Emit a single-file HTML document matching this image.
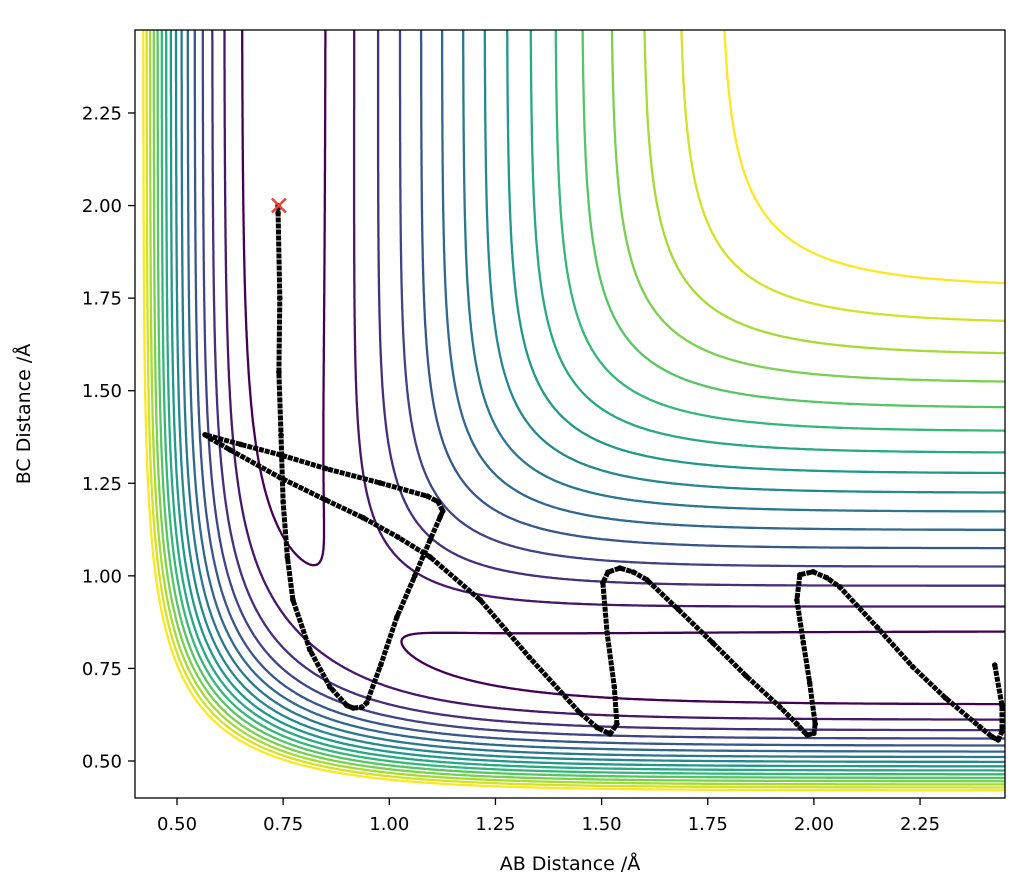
<!DOCTYPE html>
<html><head><meta charset="utf-8">
<style>
html,body{margin:0;padding:0;background:#fff;}
svg{display:block;font-family:"DejaVu Sans","Liberation Sans",sans-serif;}
</style></head>
<body>
<svg id="chart" width="1028" height="892" viewBox="0 0 1028 892" xmlns="http://www.w3.org/2000/svg">
  <defs><clipPath id="clip"><rect x="135" y="30" width="870" height="768"/></clipPath></defs>
  <rect x="0" y="0" width="1028" height="892" fill="#fff"/>
  <g id="contours" clip-path="url(#clip)"></g>
  <g id="traj" clip-path="url(#clip)"></g>
  <g id="start"></g>
  <rect x="135" y="30" width="870" height="768" fill="none" stroke="#000" stroke-width="1.3"/>
  <g id="xticks"></g>
  <g id="yticks"></g>
  <text x="570" y="870" font-size="19" text-anchor="middle">AB Distance /Å</text>
  <text x="0" y="0" font-size="19" text-anchor="middle" transform="translate(30,414) rotate(-90)">BC Distance /Å</text>
</svg>
<script>
// ---- data ----
const levelMin = -4.575;
const levelStep = 0.2264;
const levelCount = 16;
const xTickVals = [0.50,0.75,1.00,1.25,1.50,1.75,2.00,2.25];
const yTickVals = [0.50,0.75,1.00,1.25,1.50,1.75,2.00,2.25];
const trajAB = [0.738,0.738,0.742,0.740,0.745,0.750,0.760,0.773,0.813,0.860,0.900,0.915,0.935,0.947,0.980,1.018,1.060,1.096,1.120,1.126,1.115,1.090,0.978,0.850,0.743,0.650,0.566,0.580,0.625,0.743,0.850,0.938,1.020,1.096,1.214,1.330,1.449,1.490,1.520,1.536,1.530,1.513,1.503,1.515,1.543,1.575,1.607,1.680,1.762,1.840,1.920,1.960,1.984,2.000,2.003,1.990,1.975,1.960,1.967,1.998,2.030,2.061,2.150,2.233,2.310,2.391,2.420,2.434,2.443,2.443,2.426];
const trajBC = [2.000,1.980,1.750,1.550,1.380,1.200,1.050,0.935,0.800,0.700,0.650,0.643,0.645,0.657,0.760,0.889,1.000,1.097,1.160,1.175,1.200,1.215,1.251,1.290,1.327,1.355,1.381,1.370,1.340,1.265,1.205,1.157,1.105,1.051,0.935,0.780,0.630,0.590,0.573,0.600,0.700,0.846,0.981,1.010,1.021,1.010,0.989,0.910,0.819,0.730,0.646,0.600,0.570,0.575,0.600,0.711,0.820,0.935,1.003,1.011,0.995,0.970,0.860,0.754,0.670,0.592,0.565,0.557,0.580,0.650,0.759];
const startAB = 0.74, startBC = 2.0;

const NS='http://www.w3.org/2000/svg';
const X0=177, XS=424.6, Y0=761, YS=370.3;
function sx(v){return X0+(v-0.5)*XS;}
function sy(v){return Y0-(v-0.5)*YS;}
function ix(p){return 0.5+(p-X0)/XS;}
function iy(p){return 0.5+(Y0-p)/YS;}

// LEPS potential with Sato parameter
const D=4.746, A=1.942, R0=0.742, DS=0.188;
const CC=D/(4*(1+DS));
function Qf(r){const e=Math.exp(-A*(r-R0));return CC*((3+DS)*e*e-(2+6*DS)*e);}
function Jf(r){const e=Math.exp(-A*(r-R0));return CC*((1+3*DS)*e*e-(6+2*DS)*e);}
function V(x,y){
  const r=[x,y,x+y];
  let Q=0,J=[];
  for(const ri of r){Q+=Qf(ri);J.push(Jf(ri));}
  return Q-Math.sqrt(0.5*((J[0]-J[1])**2+(J[1]-J[2])**2+(J[2]-J[0])**2));
}
function viridis(t){
  const s=[[68,1,84],[72,40,120],[62,74,137],[49,104,142],[38,130,142],[31,158,137],[53,183,121],[109,205,89],[180,222,44],[253,231,37]];
  t=Math.max(0,Math.min(1,t));const f=t*(s.length-1);const i=Math.min(s.length-2,Math.floor(f));const u=f-i;
  const c=s[i].map((v,k)=>Math.round(v+(s[i+1][k]-v)*u));return `rgb(${c[0]},${c[1]},${c[2]})`;
}

// grid
const NX=420, NY=420, pxL=135, pxR=1005, pyT=30, pyB=798;
const gx=[],gy=[];
for(let i=0;i<=NX;i++)gx.push(pxL+(pxR-pxL)*i/NX);
for(let j=0;j<=NY;j++)gy.push(pyT+(pyB-pyT)*j/NY);
const G=[];
for(let j=0;j<=NY;j++){const row=[];const yv=iy(gy[j]);for(let i=0;i<=NX;i++)row.push(V(ix(gx[i]),yv));G.push(row);}

const cg=document.getElementById('contours');
for(let k=0;k<levelCount;k++){
  const L=levelMin+k*levelStep;
  let d='';
  for(let j=0;j<NY;j++)for(let i=0;i<NX;i++){
    const v=[G[j][i],G[j][i+1],G[j+1][i+1],G[j+1][i]];
    const P=[[gx[i],gy[j]],[gx[i+1],gy[j]],[gx[i+1],gy[j+1]],[gx[i],gy[j+1]]];
    const pts=[];
    for(let e=0;e<4;e++){const a=v[e],b=v[(e+1)%4];
      if((a<L)!==(b<L)){const t=(L-a)/(b-a);const p=P[e],q=P[(e+1)%4];pts.push([p[0]+(q[0]-p[0])*t,p[1]+(q[1]-p[1])*t]);}}
    if(pts.length>=2)d+=`M${pts[0][0].toFixed(1)} ${pts[0][1].toFixed(1)}L${pts[1][0].toFixed(1)} ${pts[1][1].toFixed(1)}`;
    if(pts.length===4)d+=`M${pts[2][0].toFixed(1)} ${pts[2][1].toFixed(1)}L${pts[3][0].toFixed(1)} ${pts[3][1].toFixed(1)}`;
  }
  const p=document.createElementNS(NS,'path');
  
  
  p.setAttribute('d',d);p.setAttribute('fill','none');
  p.setAttribute('stroke',viridis(k/(levelCount-1)));
  p.setAttribute('stroke-width','2.3');p.setAttribute('stroke-linecap','round');
  cg.appendChild(p);
}

// trajectory
const tg=document.getElementById('traj');
const pl=document.createElementNS(NS,'polyline');


pl.setAttribute('points',trajAB.map((v,i)=>sx(v).toFixed(1)+','+sy(trajBC[i]).toFixed(1)).join(' '));
pl.setAttribute('fill','none');pl.setAttribute('stroke','#000');pl.setAttribute('stroke-width','5');pl.setAttribute('stroke-dasharray','5 1');pl.setAttribute('stroke-linejoin','round');
tg.appendChild(pl);
for(let i=0;i<trajAB.length;i++){
  const c=document.createElementNS(NS,'circle');
  
  
  c.setAttribute('cx',sx(trajAB[i]));c.setAttribute('cy',sy(trajBC[i]));c.setAttribute('r','2.8');c.setAttribute('fill','#000');
  tg.appendChild(c);
}
// start marker
const sg=document.getElementById('start');
const cx=sx(startAB), cy=sy(startBC), h=7;
const m=document.createElementNS(NS,'path');


m.setAttribute('d',`M${cx-h} ${cy-h}L${cx+h} ${cy+h}M${cx-h} ${cy+h}L${cx+h} ${cy-h}`);
m.setAttribute('stroke','#e8453c');m.setAttribute('stroke-width','2.5');
sg.appendChild(m);

// ticks
const xg=document.getElementById('xticks');
xTickVals.forEach(v=>{
  const x=sx(v);
  const l=document.createElementNS(NS,'line');
  
  
  l.setAttribute('x1',x);l.setAttribute('x2',x);l.setAttribute('y1',798);l.setAttribute('y2',805);l.setAttribute('stroke','#000');l.setAttribute('stroke-width','1.3');
  xg.appendChild(l);
  const t=document.createElementNS(NS,'text');
  
  
  t.setAttribute('x',x);t.setAttribute('y',830);t.setAttribute('font-size','18');t.setAttribute('text-anchor','middle');
  t.textContent=v.toFixed(2);xg.appendChild(t);
});
const yg=document.getElementById('yticks');
yTickVals.forEach(v=>{
  const y=sy(v);
  const l=document.createElementNS(NS,'line');
  
  
  l.setAttribute('x1',128);l.setAttribute('x2',135);l.setAttribute('y1',y);l.setAttribute('y2',y);l.setAttribute('stroke','#000');l.setAttribute('stroke-width','1.3');
  yg.appendChild(l);
  const t=document.createElementNS(NS,'text');
  
  
  t.setAttribute('x',122);t.setAttribute('y',y+6.5);t.setAttribute('font-size','18');t.setAttribute('text-anchor','end');
  t.textContent=v.toFixed(2);yg.appendChild(t);
});
</script>
</body></html>
